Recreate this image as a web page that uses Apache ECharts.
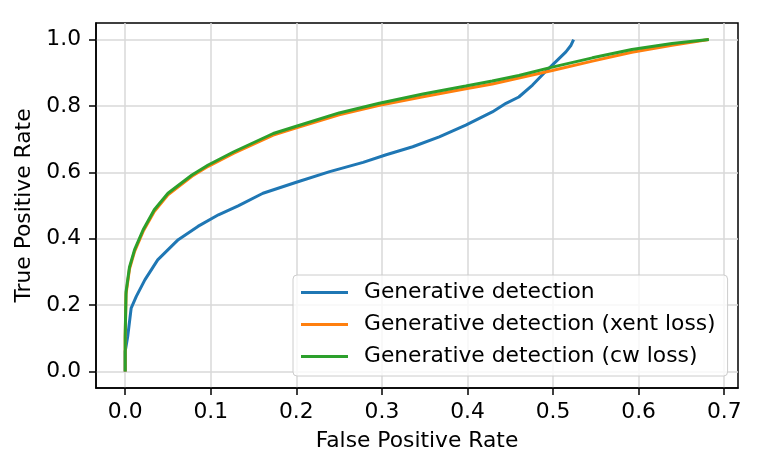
<!DOCTYPE html>
<html>
<head>
<meta charset="utf-8">
<script src="https://cdn.jsdelivr.net/npm/echarts@6/dist/echarts.min.js"></script>
<style>
	html, body { margin: 0; padding: 0; background: #fff; }
	#roc { width: 762px; height: 471px; }
</style>
</head>
<body>
<div id="roc"></div>
<script>
// values
var genFpr = [0, 0.0, 0.003, 0.007, 0.013, 0.023, 0.038, 0.062, 0.085, 0.109, 0.132, 0.161, 0.2, 0.239, 0.278, 0.305, 0.336, 0.367, 0.398, 0.429, 0.445, 0.46, 0.476, 0.491, 0.503, 0.515, 0.521, 0.524];
var genTpr = [0, 0.06, 0.106, 0.191, 0.226, 0.276, 0.336, 0.397, 0.437, 0.472, 0.499, 0.537, 0.570, 0.602, 0.630, 0.653, 0.677, 0.707, 0.742, 0.782, 0.808, 0.827, 0.863, 0.903, 0.933, 0.963, 0.983, 1.0];

var advFpr = [0, 0.0, 0.001, 0.005, 0.011, 0.021, 0.034, 0.05, 0.078, 0.097, 0.127, 0.173, 0.2, 0.25, 0.297, 0.348, 0.398, 0.429, 0.46, 0.499, 0.546, 0.592, 0.639, 0.682];
var xentTpr = [0, 0.10, 0.233, 0.308, 0.362, 0.422, 0.482, 0.532, 0.588, 0.618, 0.658, 0.712, 0.734, 0.773, 0.802, 0.828, 0.852, 0.866, 0.884, 0.907, 0.935, 0.962, 0.983, 1.0];
var cwTpr = [0, 0.106, 0.24, 0.314, 0.367, 0.427, 0.487, 0.537, 0.592, 0.622, 0.662, 0.717, 0.739, 0.779, 0.808, 0.836, 0.86, 0.875, 0.892, 0.917, 0.945, 0.97, 0.988, 1.0];

var seriesNames = ['Generative detection', 'Generative detection (xent loss)', 'Generative detection (cw loss)'];
var xTicks = [0, 0.1, 0.2, 0.3, 0.4, 0.5, 0.6, 0.7];
var yTicks = [0, 0.2, 0.4, 0.6, 0.8, 1.0];

function zip(xs, ys) {
	var out = [];
	for (var i = 0; i < xs.length; i++) out.push([xs[i], ys[i]]);
	return out;
}

var font = 'DejaVu Sans';
var fs = 21.8;

function axis(ticks, extra) {
	var a = {
		type: 'value',
		axisLine: { show: true, onZero: false, lineStyle: { color: '#000', width: 1.5 } },
		axisTick: { show: true, length: 7, customValues: ticks, lineStyle: { color: '#000', width: 1.5 } },
		axisLabel: {
			customValues: ticks, color: '#000', fontFamily: font, fontSize: fs,
			formatter: function (v) { return v.toFixed(1); }
		},
		splitLine: { show: true, lineStyle: { color: '#d9d9d9', width: 1.5 } },
		nameLocation: 'middle',
		nameTextStyle: { color: '#000', fontFamily: font, fontSize: fs }
	};
	for (var k in extra) a[k] = extra[k];
	return a;
}

var xAx = axis(xTicks, { min: -0.0341, max: 0.7161, name: 'False Positive Rate', nameGap: 42 });
xAx.axisLabel.margin = 13;
var yAx = axis(yTicks, { min: -0.05, max: 1.05, name: 'True Positive Rate', nameGap: 58 });
yAx.axisLabel.margin = 15;

var chart = echarts.init(document.getElementById('roc'), null, { renderer: 'canvas' });
chart.setOption({
	animation: false,
	backgroundColor: '#fff',
	color: ['#1f77b4', '#ff7f0e', '#2ca02c'],
	grid: { left: 96, right: 24, top: 23, bottom: 83, show: true, borderColor: '#000', borderWidth: 1.5, backgroundColor: 'transparent' },
	legend: {
		orient: 'vertical',
		left: 293,
		top: 275,
		padding: [6, 12, 8, 8],
		itemGap: 9,
		itemWidth: 47,
		itemHeight: 3,
		icon: 'rect',
		backgroundColor: 'rgba(255,255,255,0.8)',
		borderColor: '#cccccc',
		borderWidth: 1,
		borderRadius: 4,
		textStyle: { color: '#000', fontFamily: font, fontSize: fs, lineHeight: 23, padding: [0, 0, 0, 11] },
		data: seriesNames
	},
	xAxis: xAx,
	yAxis: yAx,
	series: [
		{ name: seriesNames[0], type: 'line', data: zip(genFpr, genTpr), showSymbol: false, lineStyle: { width: 3 } },
		{ name: seriesNames[1], type: 'line', data: zip(advFpr, xentTpr), showSymbol: false, lineStyle: { width: 3 } },
		{ name: seriesNames[2], type: 'line', data: zip(advFpr, cwTpr), showSymbol: false, lineStyle: { width: 3 } }
	]
});
</script>
</body>
</html>
